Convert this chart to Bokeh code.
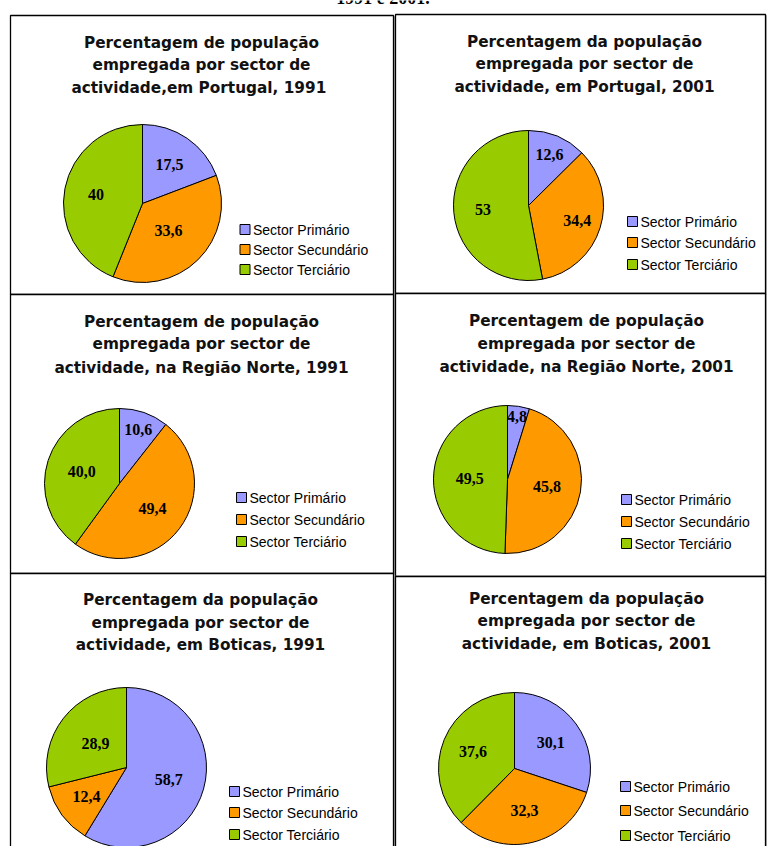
import math
from bokeh.plotting import figure
from bokeh.models import Range1d, ColumnDataSource
from bokeh.embed import file_html
from bokeh.resources import INLINE
from bokeh.core.properties import value

# ---------------- data ----------------
categories = ["Sector Primário", "Sector Secundário", "Sector Terciário"]
colors = ["#9999FF", "#FF9900", "#99CC00"]

titles = [
    ["Percentagem de população", "empregada por sector de", "actividade,em Portugal,  1991"],
    ["Percentagem da população", "empregada por sector de", "actividade, em Portugal, 2001"],
    ["Percentagem de população", "empregada por sector de", "actividade, na Região Norte, 1991"],
    ["Percentagem de população", "empregada por sector de", "actividade, na Região Norte, 2001"],
    ["Percentagem da população", "empregada por sector de", "actividade, em Boticas, 1991"],
    ["Percentagem da população", "empregada por sector de", "actividade, em Boticas, 2001"],
]

portugal_1991 = [17.5, 33.6, 40.0]
portugal_2001 = [12.6, 34.4, 53.0]
norte_1991 = [10.6, 49.4, 40.0]
norte_2001 = [4.8, 45.8, 49.5]
boticas_1991 = [58.7, 12.4, 28.9]
boticas_2001 = [30.1, 32.3, 37.6]
series = [portugal_1991, portugal_2001, norte_1991, norte_2001, boticas_1991, boticas_2001]
label_formats = ["g", "g", ".1f", ".1f", ".1f", ".1f"]

# ---------------- layout (page pixel coordinates, y downward) ----------------
W, H = 767, 846
panels = [
    dict(box=(10, 393, 15, 294), tx=201, ty=(42, 64, 87), c=(142, 203), r=79,
         sq=244.5, ly=(229, 249, 269), fr=[0.60, 0.47, 0.60]),
    dict(box=(395, 765, 14, 293), tx=584, ty=(41, 63, 86), c=(528, 205), r=75,
         sq=632, ly=(221, 242, 264), fr=[0.73, 0.68, 0.61]),
    dict(box=(10, 393, 294, 573), tx=201, ty=(321, 343, 367), c=(119, 483), r=75,
         sq=241, ly=(497, 519, 541), fr=[0.76, 0.55, 0.53]),
    dict(box=(395, 765, 293, 576), tx=586, ty=(320, 343, 366), c=(507, 479), r=74,
         sq=626, ly=(499, 521, 543), fr=[0.86, 0.54, 0.51]),
    dict(box=(10, 393, 573, 870), tx=200, ty=(599, 622, 644), c=(126, 767), r=80,
         sq=234, ly=(791, 812, 834), fr=[0.55, 0.62, 0.49]),
    dict(box=(395, 765, 576, 870), tx=586, ty=(598, 620, 643), c=(514, 768), r=76,
         sq=625, ly=(786, 810, 835), fr=[0.59, 0.57, 0.59]),
]


def Y(y):
    return H - y


p = figure(width=W, height=H, output_backend="svg", toolbar_location=None,
           x_range=Range1d(0, W), y_range=Range1d(0, H),
           x_axis_type=None, y_axis_type=None, min_border=0)
p.outline_line_color = None
p.grid.visible = False
p.background_fill_color = "white"
p.border_fill_color = "white"

# partial heading cut off at the top of the page
p.text(x=[W / 2 - 1], y=[Y(-3)], text=["1991 e 2001."],
       text_font=value("Liberation Serif"), text_font_style="bold",
       text_font_size="18px", text_color="black",
       text_align="center", text_baseline="middle")

# panel boxes
for pan in panels:
    l, r_, t, b = pan["box"]
    p.quad(left=[l + 1.2], right=[r_ + 1.2], top=[Y(t + 1.2)], bottom=[Y(b + 1.2)],
           fill_color=None, line_color="#a0a0a0", line_width=1)
    p.quad(left=[l], right=[r_], top=[Y(t)], bottom=[Y(b)],
           fill_color="white", line_color="black", line_width=1.3)

for pan, vals, title, fmt in zip(panels, series, titles, label_formats):
    cx, cy = pan["c"]
    R = pan["r"]
    total = sum(vals)
    starts, ends, mids = [], [], []
    cum = 0.0
    for v in vals:
        a0 = cum / total * 2 * math.pi
        cum += v
        a1 = cum / total * 2 * math.pi
        starts.append(math.pi / 2 - a0)
        ends.append(math.pi / 2 - a1)
        mids.append((a0 + a1) / 2)
    src = ColumnDataSource(dict(x=[cx] * 3, y=[Y(cy)] * 3, start=starts, end=ends,
                                color=colors, cat=categories))
    p.wedge(x="x", y="y", radius=R, start_angle="start", end_angle="end",
            direction="clock", fill_color="color", line_color="black",
            line_width=1, source=src)

    # slice labels
    lx, lyy, ltxt = [], [], []
    for v, m, f in zip(vals, mids, pan["fr"]):
        lx.append(cx + f * R * math.sin(m))
        lyy.append(Y(cy - f * R * math.cos(m)))
        ltxt.append(format(v, fmt).replace(".", ","))
    p.text(x=lx, y=lyy, text=ltxt, text_font=value("Liberation Serif"),
           text_font_style="bold", text_font_size="16px", text_color="black",
           text_align="center", text_baseline="middle")

    # title
    p.text(x=[pan["tx"]] * 3, y=[Y(v) for v in pan["ty"]], text=title,
           text_font=value("DejaVu Sans"), text_font_style="bold",
           text_font_size="15.3px", text_color="#111111",
           text_align="center", text_baseline="middle")

    # legend
    sqx = pan["sq"]
    p.rect(x=[sqx] * 3, y=[Y(v) for v in pan["ly"]], width=10, height=10,
           fill_color=colors, line_color="black", line_width=1)
    p.text(x=[sqx + 8] * 3, y=[Y(v) for v in pan["ly"]], text=categories,
           text_font=value("Liberation Sans"), text_font_size="14px",
           text_color="black", text_align="left", text_baseline="middle")

open("out.html", "w").write(file_html(p, INLINE))
